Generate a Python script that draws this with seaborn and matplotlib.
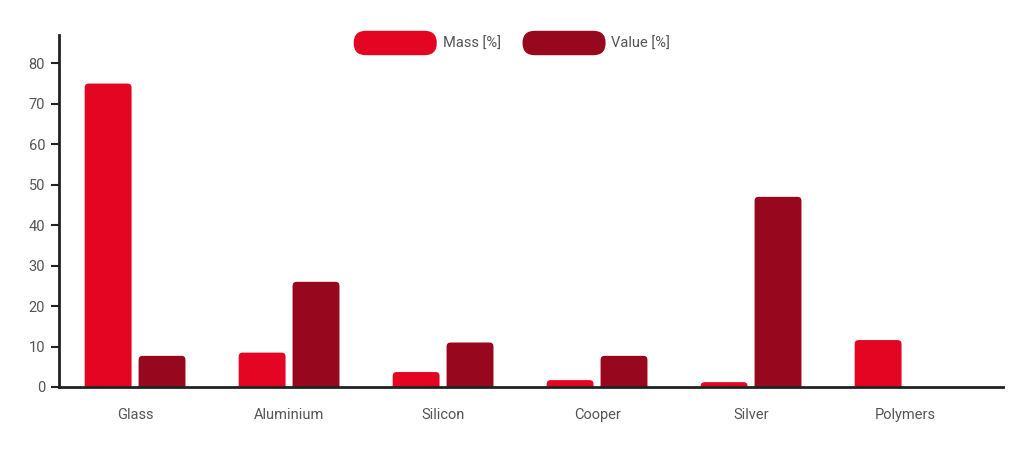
import matplotlib
matplotlib.use("Agg")
import matplotlib.pyplot as plt
import seaborn as sns
import pandas as pd
import numpy as np
from matplotlib.patches import FancyBboxPatch
from matplotlib.legend_handler import HandlerPatch
from matplotlib.patches import Patch

categories = ["Glass", "Aluminium", "Silicon", "Cooper", "Silver", "Polymers"]
mass = [75, 8.5, 3.7, 1.7, 1.2, 11.6]
value = [7.7, 26, 11, 7.7, 47, np.nan]
series_names = ["Mass [%]", "Value [%]"]
colors = ["#E30521", "#97071E"]
yticks = [0, 10, 20, 30, 40, 50, 60, 70, 80]

sns.set_theme(style="white")
plt.rcParams["font.family"] = ["Roboto", "DejaVu Sans"]

df = pd.DataFrame({
    "category": categories * 2,
    "series": [series_names[0]] * len(categories) + [series_names[1]] * len(categories),
    "pct": mass + value,
})

fig = plt.figure(figsize=(10.24, 4.57), dpi=100)
ax = fig.add_axes([59 / 1024, 1 - 387 / 457, (1003 - 59) / 1024, (387 - 35) / 457])

sns.barplot(data=df, x="category", y="pct", hue="series", order=categories,
            hue_order=series_names, palette=colors, width=0.70, gap=0.13,
            saturation=1, errorbar=None, ax=ax, legend=False)

ax.set_xlim(-0.494, 5.636)
ax.set_ylim(0, 87)

# rounded bars
fig.canvas.draw()
px_x = ax.transData.transform((1, 0))[0] - ax.transData.transform((0, 0))[0]
px_y = ax.transData.transform((0, 1))[1] - ax.transData.transform((0, 0))[1]
r_px = 4.0
rx = r_px / px_x
ry = r_px / px_y
for p in list(ax.patches):
    x, y = p.get_x(), p.get_y()
    w, h = p.get_width(), p.get_height()
    if not np.isfinite(h) or h <= 0:
        p.remove()
        continue
    fc = p.get_facecolor()
    p.remove()
    fb = FancyBboxPatch((x, y - ry), w, h + ry,
                        boxstyle=f"round,pad=0,rounding_size={rx}",
                        mutation_aspect=ry / rx, facecolor=fc, edgecolor="none",
                        clip_on=True)
    ax.add_patch(fb)

ax.set_xlabel("")
ax.set_ylabel("")
ax.set_yticks(yticks)
for s in ["top", "right"]:
    ax.spines[s].set_visible(False)
for s in ["left", "bottom"]:
    ax.spines[s].set_color("#222222")
    ax.spines[s].set_linewidth(2)
ax.tick_params(axis="y", which="both", left=True, length=6, width=1.5, color="#222222",
               labelsize=10.5, labelcolor="#555555", pad=4)
ax.tick_params(axis="x", bottom=False, labelsize=10.5, labelcolor="#555555", pad=9)
for lbl in ax.get_xticklabels() + ax.get_yticklabels():
    lbl.set_fontweight("normal")


class PillHandler(HandlerPatch):
    def create_artists(self, legend, orig_handle, xdescent, ydescent, width, height,
                       fontsize, trans):
        r = height / 2
        p = FancyBboxPatch((-xdescent, -ydescent), width, height,
                           boxstyle=f"round,pad=0,rounding_size={r}",
                           facecolor=orig_handle.get_facecolor(), edgecolor="none",
                           transform=trans)
        return [p]


handles = [Patch(facecolor=c) for c in colors]
leg = fig.legend(handles, series_names, loc="center", bbox_to_anchor=(0.5, 1 - 43 / 457),
                 ncol=2, frameon=False, fontsize=10.5, handlelength=5.7, handleheight=2.2,
                 handletextpad=0.4, columnspacing=1.5,
                 handler_map={Patch: PillHandler()})
for t in leg.get_texts():
    t.set_color("#555555")
    t.set_fontweight("normal")

fig.savefig("out.png", dpi=100)
